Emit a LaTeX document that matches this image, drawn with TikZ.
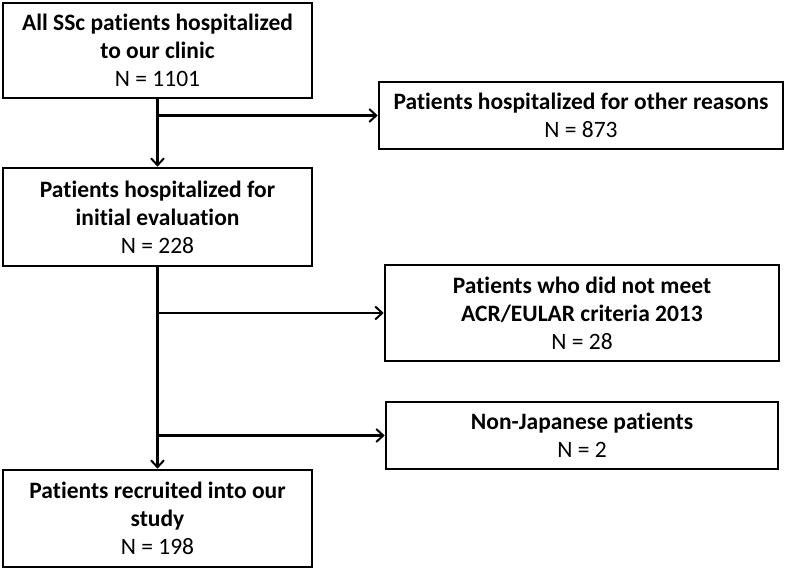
\documentclass[tikz,border=0pt]{standalone}
\usepackage{fontspec}
\setmainfont[Ligatures=NoCommon]{Carlito}
\usetikzlibrary{arrows.meta}
\begin{document}
\begin{tikzpicture}[x=1pt,y=-1pt,
  box/.style={draw=black,line width=2.6pt,rectangle,align=center,inner sep=0pt,
    font=\fontsize{23.5}{28}\selectfont},
  conn/.style={line width=2.6pt,-{Straight Barb[length=7pt,width=13pt,line width=2pt]}}]
\useasboundingbox (0,0) rectangle (787,570);
\node[box,minimum width=309,minimum height=95] (a) at (157.5,50.5)
  {\textbf{All SSc patients hospitalized}\\\textbf{to our clinic}\\N = 1101};
\node[box,minimum width=404,minimum height=67] (b) at (581,115.5)
  {\textbf{Patients hospitalized for other reasons}\\N = 873};
\node[box,minimum width=309,minimum height=98] (c) at (157.5,217)
  {\textbf{Patients hospitalized for}\\\textbf{initial evaluation}\\N = 228};
\node[box,minimum width=394,minimum height=96] (d) at (582,313)
  {\textbf{Patients who did not meet}\\\textbf{ACR/EULAR criteria 2013}\\N = 28};
\node[box,minimum width=392,minimum height=67] (e) at (582,435.5)
  {\textbf{Non-Japanese patients}\\N = 2};
\node[box,minimum width=309,minimum height=97] (f) at (157.5,518.5)
  {\textbf{Patients recruited into our}\\\textbf{study}\\N = 198};
\coordinate (j1) at (157.5,115.5);
\coordinate (j2) at (157.5,313);
\coordinate (j3) at (157.5,435.5);
\draw[conn] (a.south) -- (c.north);
\draw[conn] (j1) -- (b.west);
\draw[conn] (c.south) -- (f.north);
\draw[conn] (j2) -- (d.west);
\draw[conn] (j3) -- (e.west);
\end{tikzpicture}
\end{document}
